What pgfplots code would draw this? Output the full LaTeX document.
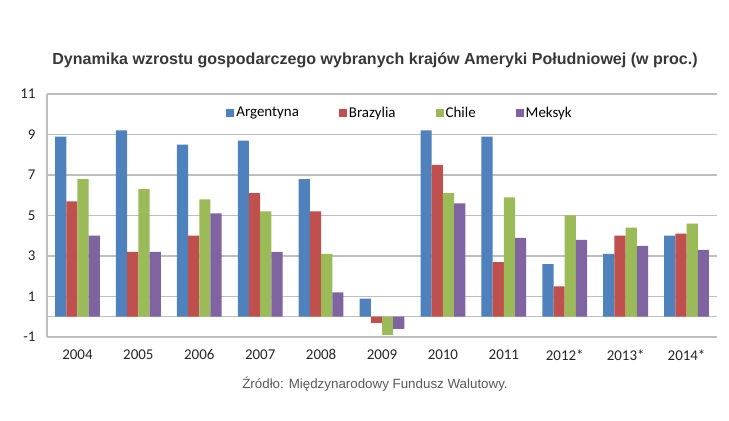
\documentclass[border=0pt]{standalone}
\usepackage{fontspec}
\setmainfont{Carlito}
\newfontfamily\arial{Liberation Sans}
\usepackage{pgfplots}
\pgfplotsset{compat=1.18}

\definecolor{arg}{HTML}{4F81BD}
\definecolor{bra}{HTML}{C0504D}
\definecolor{chi}{HTML}{9BBB59}
\definecolor{mek}{HTML}{8064A2}
\definecolor{gridc}{HTML}{BEBEBE}
\definecolor{titlec}{HTML}{383838}
\definecolor{srcc}{HTML}{595959}

\begin{document}
\begin{tikzpicture}
\path[fill=white] (0,0) rectangle (729bp,421bp);
\begin{axis}[
    at={(47bp,84bp)}, anchor=south west,
    scale only axis,
    width=670bp, height=243bp,
    xmin=-0.5, xmax=10.5,
    ymin=-1, ymax=11,
    ytick={-1,1,...,11},
    xtick={0,...,10},
    xticklabels={2004,2005,2006,2007,2008,2009,2010,2011,2012*,2013*,2014*},
    major tick length=0pt,
    ymajorgrids,
    grid style={gridc, line width=1.3bp},
    extra y ticks={0},
    extra y tick labels={},
    extra y tick style={grid=major},
    axis x line*=bottom,
    axis y line*=left,
    axis line style={gridc, line width=1.3bp, -},
    ybar=0pt,
    bar width=11.2bp,
    every axis plot/.append style={draw=none},
    /pgf/number format/assume math mode=true,
    tick label style={font=\fontsize{15}{17}\selectfont, text=black!85},
    yticklabel style={xshift=-8bp},
    xticklabel style={yshift=-9bp},
    legend columns=4,
    legend style={
        at={(0.527,0.922)}, anchor=center,
        draw=none, fill=none,
        font=\fontsize{15}{17}\selectfont,
        /tikz/every even column/.append style={column sep=38bp},
    },
    legend image code/.code={\fill[#1] (0bp,-4bp) rectangle (8bp,4bp);},
]
% Argentyna
\addplot[fill=arg] coordinates {
    (0,8.9) (1,9.2) (2,8.5) (3,8.7) (4,6.8) (5,0.9)
    (6,9.2) (7,8.9) (8,2.6) (9,3.1) (10,4.0)
};
% Brazylia
\addplot[fill=bra] coordinates {
    (0,5.7) (1,3.2) (2,4.0) (3,6.1) (4,5.2) (5,-0.3)
    (6,7.5) (7,2.7) (8,1.5) (9,4.0) (10,4.1)
};
% Chile
\addplot[fill=chi] coordinates {
    (0,6.8) (1,6.3) (2,5.8) (3,5.2) (4,3.1) (5,-0.9)
    (6,6.1) (7,5.9) (8,5.0) (9,4.4) (10,4.6)
};
% Meksyk
\addplot[fill=mek] coordinates {
    (0,4.0) (1,3.2) (2,5.1) (3,3.2) (4,1.2) (5,-0.6)
    (6,5.6) (7,3.9) (8,3.8) (9,3.5) (10,3.3)
};
\legend{Argentyna, Brazylia, Chile, Meksyk}
\end{axis}
\node[font=\arial\bfseries\fontsize{16.1}{18}\selectfont, text=titlec]
    at (375bp,361bp) {Dynamika wzrostu gospodarczego wybranych krajów Ameryki Południowej (w proc.)};
\node[font=\arial\fontsize{13.4}{15}\selectfont, text=srcc]
    at (375bp,37bp) {Źródło: Międzynarodowy Fundusz Walutowy.};
\end{tikzpicture}
\end{document}
